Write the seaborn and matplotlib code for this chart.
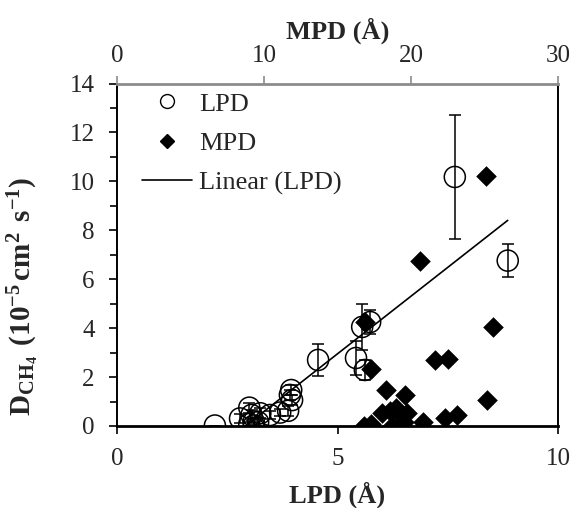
import numpy as np
import pandas as pd
import matplotlib
matplotlib.use("Agg")
import matplotlib.pyplot as plt
from matplotlib.lines import Line2D
from matplotlib.ticker import MultipleLocator
import seaborn as sns

# Largest pore diameter (LPD) vs methane diffusivity, with error bars
lpd = [2.22, 3.10, 3.00, 3.20, 3.10, 2.79, 3.05, 3.47, 3.25, 3.70, 3.88, 3.00,
       3.97, 3.92, 3.95, 4.56, 5.42, 5.62, 5.56, 5.74, 7.66, 8.86]
d_lpd = [0.02, 0.02, 0.08, 0.16, 0.18, 0.31, 0.45, 0.45, 0.52, 0.55, 0.62, 0.75,
         1.06, 1.27, 1.47, 2.70, 2.78, 2.29, 4.05, 4.25, 10.18, 6.76]
err_lpd = [0.00, 0.15, 0.10, 0.15, 0.10, 0.20, 0.20, 0.15, 0.20, 0.15, 0.20, 0.20,
           0.20, 0.20, 0.20, 0.67, 0.70, 0.40, 0.95, 0.50, 2.55, 0.67]

# Mean pore diameter (MPD) vs methane diffusivity
mpd = [16.8, 17.3, 18.7, 19.5, 20.8, 22.3, 19.3, 23.1, 18.0, 19.7, 18.6, 19.0,
       25.2, 19.6, 18.3, 21.6, 22.5, 17.3, 16.9, 25.6, 25.1, 20.6]
d_mpd = [0.02, 0.08, 0.02, 0.18, 0.16, 0.31, 0.45, 0.45, 0.52, 0.55, 0.62, 0.75,
         1.06, 1.27, 1.47, 2.70, 2.73, 2.32, 4.26, 4.06, 10.20, 6.76]

x_ticks_lpd = [0, 5, 10]
x_ticks_mpd = [0, 10, 20, 30]
y_ticks = [0, 2, 4, 6, 8, 10, 12, 14]

df_lpd = pd.DataFrame({"LPD": lpd, "D": d_lpd, "err": err_lpd})
df_mpd = pd.DataFrame({"MPD": mpd, "D": d_mpd})

sns.set_style("white")
plt.rcParams["font.family"] = ["Liberation Serif", "DejaVu Serif"]
plt.rcParams["mathtext.fontset"] = "custom"
plt.rcParams["mathtext.rm"] = "Liberation Serif"
plt.rcParams["mathtext.it"] = "Liberation Serif:italic"
plt.rcParams["mathtext.bf"] = "Liberation Serif:bold"

fig = plt.figure(figsize=(5.74, 5.08), dpi=100)
ax = fig.add_axes([117 / 574, 1 - 426 / 508, 441 / 574, 342.5 / 508])

# error bars and open circles for LPD
ax.errorbar(df_lpd["LPD"], df_lpd["D"], yerr=df_lpd["err"], fmt="none",
            ecolor="black", elinewidth=1.1, capsize=4.5, capthick=1.1, zorder=2)
sns.scatterplot(data=df_lpd, x="LPD", y="D", ax=ax, marker="o", s=230,
                facecolor="none", edgecolor="black", linewidth=1.1, zorder=3)
# linear trend of LPD
sns.regplot(data=df_lpd, x="LPD", y="D", ax=ax, scatter=False, ci=None,
            truncate=True, line_kws={"color": "black", "lw": 1.2, "zorder": 2})

ax.set_xlim(0, 10)
ax.set_ylim(0, 14)
ax.set_xticks(x_ticks_lpd)
ax.set_yticks(y_ticks)
ax.yaxis.set_minor_locator(MultipleLocator(1))
ax.tick_params(axis="both", which="both", direction="out", color="black",
               labelsize=18, pad=10)
ax.tick_params(axis="y", which="major", length=6, width=1.2, left=True)
ax.tick_params(axis="y", which="minor", length=5, width=1.2, left=True)
ax.tick_params(axis="x", which="major", length=6, width=1.2, bottom=True)
ax.set_xlabel("LPD (Å)", fontsize=19, fontweight="bold")
ax.xaxis.set_label_coords(0.5, -0.162)
ax.set_ylabel(r"$\mathbf{D_{CH_4}\ \,(10^{-5}\,cm^{2}\ \,s^{-1})}$", fontsize=21)
ax.yaxis.set_label_coords(-0.172, 0.38)
for side in ["left", "bottom", "right"]:
    ax.spines[side].set_color("black")
    ax.spines[side].set_linewidth(1.4)
ax.spines["bottom"].set_linewidth(2.0)

# secondary top axis for MPD
ax2 = ax.twiny()
sns.scatterplot(data=df_mpd, x="MPD", y="D", ax=ax2, marker="D", s=110,
                color="black", edgecolor="black", linewidth=0, zorder=4)
ax2.set_xlim(0, 30)
ax2.set_ylim(0, 14)
ax2.set_xticks(x_ticks_mpd)
ax2.tick_params(axis="x", which="major", direction="out", length=6, width=1.2,
                color="#8c8c8c", labelsize=18, pad=6, top=True)
ax2.set_xlabel("MPD (Å)", fontsize=19, fontweight="bold")
ax2.xaxis.set_label_coords(0.5, 1.13)
ax2.spines["top"].set_color("#8c8c8c")
ax2.spines["top"].set_linewidth(2.0)
for side in ["left", "bottom", "right"]:
    ax2.spines[side].set_visible(False)

handles = [
    Line2D([], [], marker="o", ls="", mfc="none", mec="black", mew=1.0, ms=10),
    Line2D([], [], marker="D", ls="", color="black", ms=7.5),
    Line2D([], [], color="black", lw=1.2),
]
ax2.legend(handles, ["LPD", "MPD", "Linear (LPD)"], loc="upper left",
           bbox_to_anchor=((142 - 117) / 441, 0.975), frameon=False,
           fontsize=19, handlelength=1.9, handletextpad=0.25,
           labelspacing=0.6, borderpad=0, borderaxespad=0)

fig.savefig("out.png", dpi=100)
